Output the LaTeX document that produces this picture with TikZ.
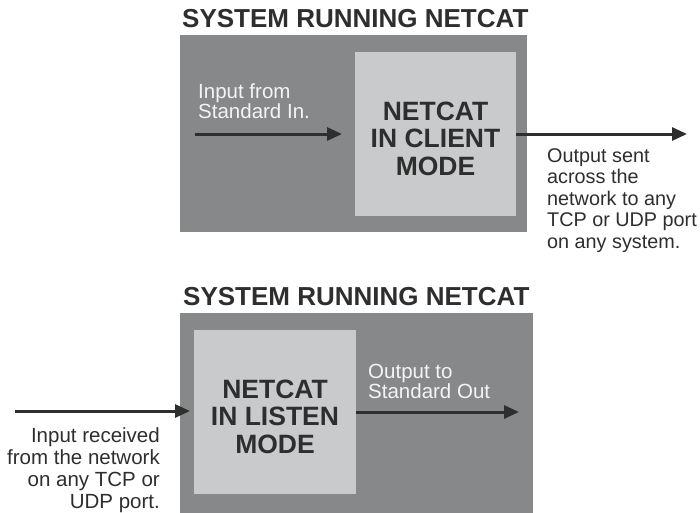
\documentclass[tikz,border=0pt]{standalone}
\usepackage{fontspec}
\setmainfont{Liberation Sans}
\usetikzlibrary{arrows.meta}
\definecolor{darkbox}{HTML}{87888A}
\definecolor{lightbox}{HTML}{C9CACC}
\definecolor{ink}{HTML}{2E2E2E}
\definecolor{paletext}{HTML}{F4F4F4}
\begin{document}
\begin{tikzpicture}[x=1pt,y=-1pt,
  outerbox/.style={fill=darkbox,draw=none,inner sep=0,anchor=north west},
  innerbox/.style={fill=lightbox,draw=none,inner sep=0,anchor=north west},
  modetext/.style={font=\fontsize{26.5}{27.5}\selectfont\bfseries,text=ink,
    align=center,inner sep=0,anchor=base},
  titletext/.style={inner sep=0,anchor=base west,text=ink,
    font=\fontsize{26}{30}\selectfont\bfseries},
  label/.style={inner sep=0,font=\fontsize{20}{21.5}\selectfont,align=left},
  flow/.style={draw=ink,line width=3pt,-{Triangle[length=15pt,width=13pt]}}
]
\useasboundingbox (0,0) rectangle (700,512);
\fill[white] (0,0) rectangle (700,512);

% ---------- top system ----------
\node[titletext] (title1) at (182,27) {SYSTEM RUNNING NETCAT};
\node[outerbox,minimum width=347pt,minimum height=197pt] (outer1) at (180,35) {};
\node[innerbox,minimum width=161pt,minimum height=164pt] (inner1) at (355,52) {};
\node[modetext] (client) at (435.5,175) {NETCAT\\IN CLIENT\\MODE};
\node[label,font=\fontsize{20.5}{19.5}\selectfont,text=paletext,anchor=base west] (inlbl1) at (198,118) {Input from\\Standard In.};
\coordinate (in1) at (195,134);
\draw[flow,shorten >=13pt] (in1) -- (in1 -| inner1.west);
\coordinate (out1) at (687,134);
\draw[flow] (inner1.east |- out1) -- (out1);
\node[label,font=\fontsize{19.8}{21.5}\selectfont,text=ink,anchor=base west] (outlbl1) at (547,248) {Output sent\\across the\\network to any\\TCP or UDP port\\on any system.};

% ---------- bottom system ----------
\node[titletext] (title2) at (183,305) {SYSTEM RUNNING NETCAT};
\node[outerbox,minimum width=353pt,minimum height=202pt] (outer2) at (180,313) {};
\node[innerbox,minimum width=162pt,minimum height=164pt] (inner2) at (194,330) {};
\node[modetext] (listen) at (275,453) {NETCAT\\IN LISTEN\\MODE};
\coordinate (in2) at (15,411);
\draw[flow,shorten >=4pt] (in2) -- (in2 -| inner2.west);
\node[label,font=\fontsize{20.5}{22}\selectfont,text=ink,align=right,anchor=base east] (inlbl2) at (160,508) {Input received\\from the network\\on any TCP or\\UDP port.};
\coordinate (out2) at (519,412);
\draw[flow] (inner2.east |- out2) -- (out2);
\node[label,font=\fontsize{20.5}{20}\selectfont,text=paletext,anchor=base west] (outlbl2) at (368,398) {Output to\\Standard Out};
\end{tikzpicture}
\end{document}
